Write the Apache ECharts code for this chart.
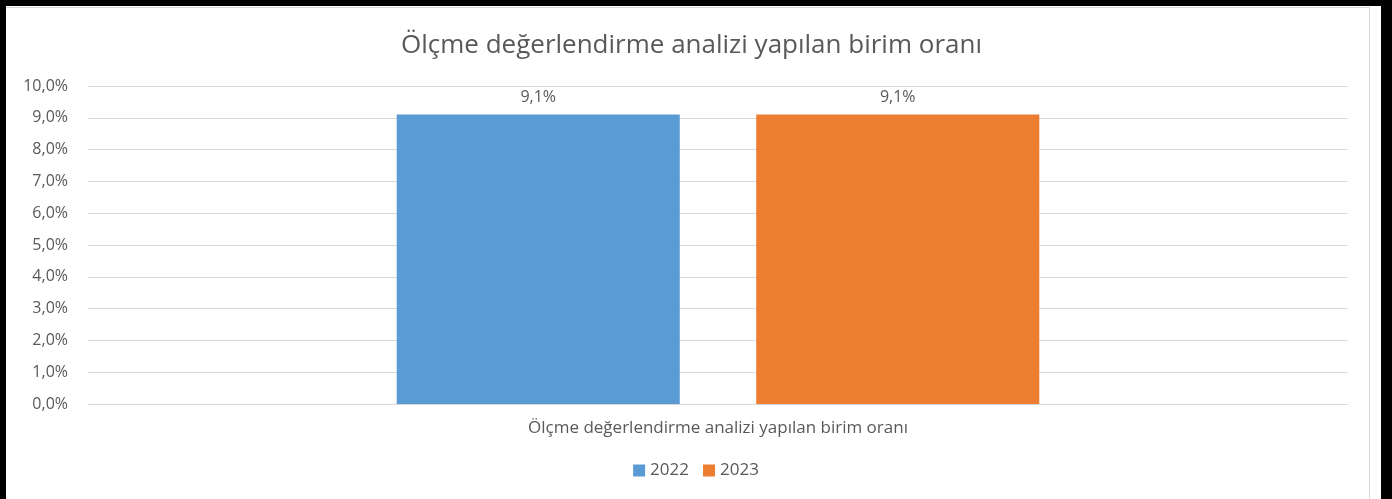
<!DOCTYPE html>
<html>
<head>
<meta charset="utf-8">
<script src="https://cdn.jsdelivr.net/npm/echarts@6/dist/echarts.min.js"></script>
<style>
  html, body { margin: 0; padding: 0; background: #fff; }
  #frame { position: absolute; left: 0; top: 0; width: 1392px; height: 499px; background: #000; }
  #sheet { position: absolute; left: 6px; top: 6px; width: 1375px; height: 493px; background: #fff; }
  #edge { position: absolute; left: 6px; top: 7px; width: 1364px; height: 492px;
          border-top: 1px solid #d9d9d9; border-right: 1px solid #d9d9d9; box-sizing: border-box; }
  #chart { position: absolute; left: 0; top: 0; width: 1392px; height: 499px; }
</style>
</head>
<body>
<div id="frame"></div>
<div id="sheet"></div>
<div id="edge"></div>
<div id="chart"></div>
<script>
// data
var titleText = 'Ölçme değerlendirme analizi yapılan birim oranı';
var categories = ['Ölçme değerlendirme analizi yapılan birim oranı'];
var seriesNames = ['2022', '2023'];
var values2022 = [0.091];
var values2023 = [0.091];
var seriesColors = ['#5B9BD5', '#ED7D31'];

var textColor = '#595959';
var fontFam = '"Open Sans", "Noto Sans", sans-serif';

function pct(v) {
  return (v * 100).toFixed(1).replace('.', ',') + '%';
}

var myChart = echarts.init(document.getElementById('chart'));
var seriesData = [values2022, values2023];

var option = {
  backgroundColor: 'rgba(0,0,0,0)',
  animation: false,
  title: {
    text: titleText,
    left: 396,
    top: 28,
    textStyle: { color: textColor, fontSize: 26, fontWeight: 'normal', fontFamily: fontFam }
  },
  legend: {
    data: seriesNames,
    bottom: 15,
    left: 'center',
    itemWidth: 12,
    itemHeight: 12,
    itemGap: 14,
    icon: 'rect',
    textStyle: { color: textColor, fontSize: 17, fontFamily: fontFam }
  },
  grid: { left: 88, right: 44, top: 86, bottom: 95 },
  xAxis: {
    type: 'category',
    data: categories,
    axisLine: { show: true, lineStyle: { color: '#d9d9d9' } },
    axisTick: { show: false },
    axisLabel: { color: textColor, fontSize: 17, margin: 16, fontFamily: fontFam }
  },
  yAxis: {
    type: 'value',
    min: 0,
    max: 0.1,
    interval: 0.01,
    axisLine: { show: false },
    axisTick: { show: false },
    splitLine: { lineStyle: { color: '#d9d9d9' } },
    axisLabel: { color: textColor, fontSize: 16, margin: 20, fontFamily: fontFam, formatter: pct }
  },
  series: []
};

seriesNames.forEach(function(name, i) {
  option.series.push({
    name: name,
    type: 'bar',
    data: seriesData[i],
    barGap: '27%',
    barCategoryGap: '49%',
    itemStyle: { color: seriesColors[i] },
    label: {
      show: true,
      position: 'top',
      distance: 9,
      color: textColor,
      fontSize: 16,
      fontFamily: fontFam,
      formatter: function(p) { return pct(p.value); }
    }
  });
});

myChart.setOption(option);
</script>
</body>
</html>
